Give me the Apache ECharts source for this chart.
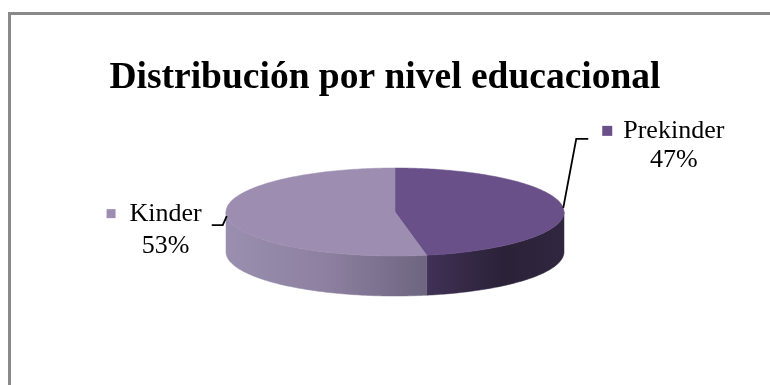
<!DOCTYPE html>
<html><head><meta charset="utf-8">
<script src="https://cdn.jsdelivr.net/npm/echarts@6/dist/echarts.min.js"></script>
<style>html,body{margin:0;padding:0;background:#fff}#c{width:770px;height:385px}</style>
</head><body><div id="c"></div>
<script>
// ---- data ----
const categories = ['Prekinder', 'Kinder'];
const values = [47, 53];
const titleText = 'Distribución por nivel educacional';

// ---- styles ----
const topColors = ['#6a5088', '#9d8db0'];
const sideStops = [
  [[0, '#403156'], [0.55, '#2b2238'], [1, '#30263f']],
  [[0, '#9a8fae'], [0.5, '#8d80a0'], [1, '#6e6580']]
];
const FONT_FAMILY = '"Liberation Serif", "Times New Roman", serif';
const LABEL_FONT = '26px ' + FONT_FAMILY;

// ---- layout ----
const CX = 395, CY = 212, RX = 169, RY = 44, DEPTH = 40;
const leaderLayout = [
  { elbow: [13, -69], len: 12 },
  { elbow: [-4, 9], len: -11 }
];

const total = values.reduce((s, v) => s + v, 0);
const measureCtx = document.createElement('canvas').getContext('2d');
function textWidth(t) { measureCtx.font = LABEL_FONT; return measureCtx.measureText(t).width; }

function pt(deg, dy) {
  const r = deg * Math.PI / 180;
  return [CX + RX * Math.sin(r), CY - RY * Math.cos(r) + (dy || 0)];
}
function arc(a, b, dy) {
  const pts = [];
  const n = Math.max(2, Math.ceil(Math.abs(b - a)));
  for (let i = 0; i <= n; i++) pts.push(pt(a + (b - a) * i / n, dy));
  return pts;
}

function renderItem(params, api) {
  const i = params.dataIndex;
  let start = 0;
  for (let k = 0; k < i; k++) start += values[k];
  const v = api.value(0);
  const a = start / total * 360, b = (start + v) / total * 360;
  const children = [];
  const sa = Math.max(a, 90), sb = Math.min(b, 270);
  if (sb > sa) {
    const topEdge = arc(sa, sb, 0), botEdge = arc(sb, sa, DEPTH);
    const grad = new echarts.graphic.LinearGradient(0, 0, 1, 0,
      sideStops[i].map(s => ({ offset: s[0], color: s[1] })));
    children.push({ type: 'polygon', shape: { points: topEdge.concat(botEdge) },
      style: { fill: grad, stroke: grad, lineWidth: 0.5 } });
  }
  children.push({ type: 'polygon', shape: { points: [[CX, CY]].concat(arc(a, b, 0)) },
    style: { fill: topColors[i], stroke: topColors[i], lineWidth: 0.5 } });

  // leader line + label
  const mid = (a + b) / 2;
  const anchor = pt(mid, 0);
  const L = leaderLayout[i];
  const elbow = [anchor[0] + L.elbow[0], anchor[1] + L.elbow[1]];
  const end = [elbow[0] + L.len, elbow[1]];
  children.push({ type: 'polyline', shape: { points: [anchor, elbow, end] },
    style: { stroke: '#000', lineWidth: 1.8, fill: null } });

  const name = categories[i];
  const pct = Math.round(v / total * 100) + '%';
  const w = textWidth(name);
  let nameLeft, markerLeft;
  if (L.len > 0) {
    markerLeft = end[0] + 14;
    nameLeft = markerLeft + 10 + 11;
  } else {
    nameLeft = end[0] - 10 - w;
    markerLeft = nameLeft - 14 - 9;
  }
  const nameMidY = L.len > 0 ? end[1] - 8 : end[1] - 11;
  const pctMidY = end[1] + 21;
  children.push({ type: 'rect', shape: { x: markerLeft, y: nameMidY - 5, width: L.len > 0 ? 10 : 9, height: L.len > 0 ? 10 : 9 },
    style: { fill: topColors[i] } });
  children.push({ type: 'text', x: nameLeft, y: nameMidY,
    style: { text: name, font: LABEL_FONT, fill: '#000', align: 'left', verticalAlign: 'middle' } });
  children.push({ type: 'text', x: nameLeft + w / 2, y: pctMidY,
    style: { text: pct, font: LABEL_FONT, fill: '#000', align: 'center', verticalAlign: 'middle' } });
  return { type: 'group', children };
}

const chart = echarts.init(document.getElementById('c'), null, { renderer: 'canvas' });
chart.setOption({
  animation: false,
  backgroundColor: '#fff',
  title: {
    text: titleText, left: 'center', top: 54,
    textStyle: { fontFamily: FONT_FAMILY, fontWeight: 'bold', fontSize: 37.5, color: '#000', lineHeight: 38 }
  },
  graphic: [{
    type: 'rect', shape: { x: 9.5, y: 13.5, width: 800, height: 420 },
    style: { fill: null, stroke: '#8a8a8a', lineWidth: 3 }, silent: true
  }],
  series: [{
    type: 'custom',
    coordinateSystem: 'none',
    renderItem: renderItem,
    data: values.map((v, i) => ({ name: categories[i], value: [v] }))
  }]
});
</script>
</body></html>
